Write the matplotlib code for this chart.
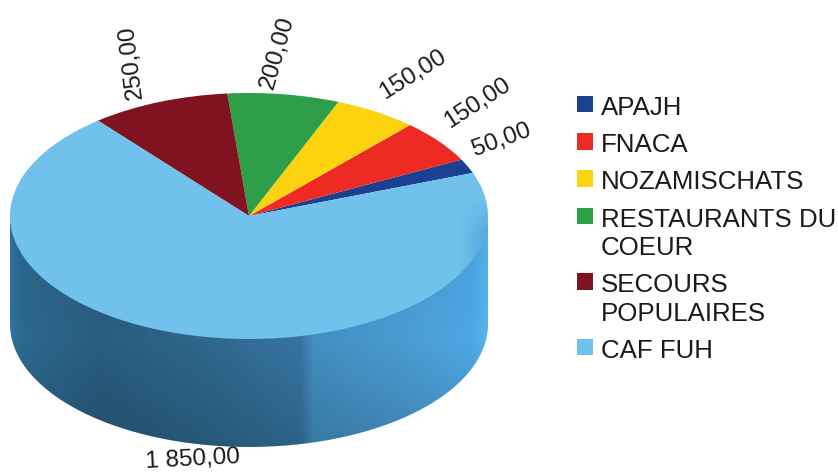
import numpy as np
import matplotlib
matplotlib.use("Agg")
import matplotlib.pyplot as plt
from matplotlib.colors import to_rgb
from matplotlib.patches import PathPatch
from matplotlib.path import Path

plt.rcParams['font.family'] = ['Liberation Sans', 'DejaVu Sans']

categories = ["APAJH", "FNACA", "NOZAMISCHATS", "RESTAURANTS DU\nCOEUR",
              "SECOURS\nPOPULAIRES", "CAF FUH"]
values = [50, 150, 150, 200, 250, 1850]
value_labels = ["50,00", "150,00", "150,00", "200,00", "250,00", "1 850,00"]
colors = ["#1B408F", "#EE2A24", "#FDD20E", "#2E9E48", "#7F1420", "#70C1EC"]

W, H = 838, 473
CX, CY, RX, RY, DEPTH = 249, 216, 239, 123, 108

fig = plt.figure(figsize=(W / 100, H / 100), dpi=100, facecolor="white")

# pixel-coordinate canvas for the side of the drum and the text
bg = fig.add_axes([0, 0, 1, 1], zorder=0)
bg.set_xlim(0, W)
bg.set_ylim(H, 0)
bg.axis("off")

stops_x = [10, 22, 100, 200, 300, 312, 400, 470, 488]
stops_c = ["#2A6F9A", "#2A6488", "#27587A", "#2B6285", "#336F99", "#3F88B8", "#4793C8", "#4A9FD8", "#52AEE6"]
stops_rgb = np.array([to_rgb(c) for c in stops_c])
grad_x = np.arange(W)
row = np.stack([np.interp(grad_x, stops_x, stops_rgb[:, i]) for i in range(3)], axis=-1)
grad_y = np.arange(H)
shade = np.interp(grad_y, [CY, CY + RY, CY + RY + DEPTH], [1.0, 1.05, 0.88])
img = np.clip(row[None, :, :] * shade[:, None, None], 0, 1)
im = bg.imshow(img, extent=(0, W, H, 0), aspect="auto", zorder=1, interpolation="bilinear")
bg.set_xlim(0, W)
bg.set_ylim(H, 0)

t = np.linspace(0, np.pi, 200)
top_y = CY + RY * np.sin(t)
xpts = CX + RX * np.cos(t)
side = np.r_[np.c_[xpts, top_y + DEPTH], np.c_[xpts[::-1], top_y[::-1] - 2]]
clip = PathPatch(Path(np.r_[side, side[:1]]), transform=bg.transData, fc="none", ec="none")
bg.add_patch(clip)
im.set_clip_path(clip)

# pie top: an elliptical pie on an axes stretched to the ellipse's box
ax = fig.add_axes([(CX - RX) / W, 1 - (CY + RY) / H, 2 * RX / W, 2 * RY / H], zorder=1)
wedges, _ = ax.pie(values, colors=colors, startangle=20.5, counterclock=True, radius=1,
                   wedgeprops=dict(linewidth=0))

# slight darker rim on the lower right of the large slice
gx = np.linspace(-1, 1, 300)
gy = np.linspace(1, -1, 200)
rim = np.zeros((200, 300, 4))
rim[..., :3] = to_rgb("#4A9FD8")
rim[..., 3] = np.outer(np.interp(gy, [-0.15, 0.15], [1, 0]), np.interp(gx, [0.88, 1.0], [0, 0.75]))
rim_im = ax.imshow(rim, extent=(-1, 1, -1, 1), aspect="auto", zorder=3)
rim_im.set_clip_path(wedges[-1])

ax.set_aspect("auto")
ax.set_xlim(-1, 1)
ax.set_ylim(-1, 1)
ax.patch.set_alpha(0)

# rotated value labels (pixel position and angle for each)
label_layout = [(502, 140, 20), (477, 103, 33), (413, 75, 32),
                (277, 53, 74), (131, 62, 97), (193, 460, 3)]
for txt, (x, y, rot) in zip(value_labels, label_layout):
    bg.text(x, y, txt, fontsize=17.5, color="#1a1a1a", rotation=rot, rotation_mode="anchor",
            ha="center", va="center", zorder=5, clip_on=False)

leg = fig.legend(wedges, categories, loc="upper left", bbox_to_anchor=(577 / W, 1 - 96 / H),
                 bbox_transform=fig.transFigure, frameon=False, fontsize=18.6,
                 handlelength=0.6, handleheight=0.6, handletextpad=0.33,
                 labelspacing=0.51, borderpad=0, borderaxespad=0, labelcolor="#1a1a1a")
for text in leg.get_texts():
    text.set_linespacing(1.24)
for hp in leg._legend_handle_box.get_children()[0].get_children():
    hp.align = "top"

fig.savefig("out.png", dpi=100)
